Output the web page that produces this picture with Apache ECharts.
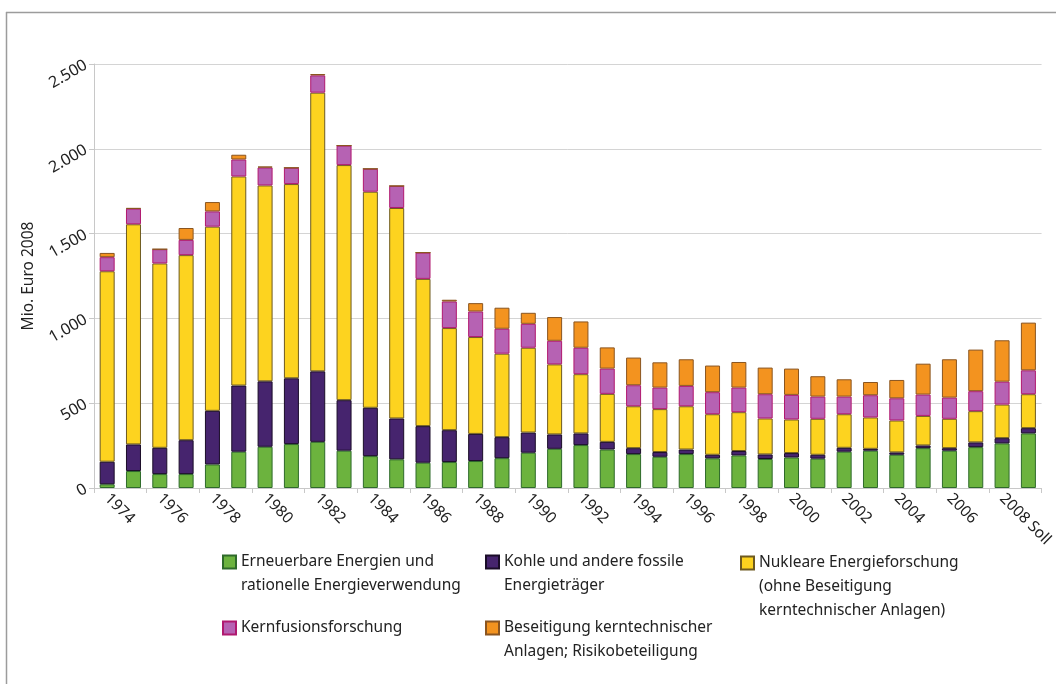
<!DOCTYPE html>
<html>
<head>
<meta charset="utf-8">
<script src="https://cdn.jsdelivr.net/npm/echarts@6/dist/echarts.min.js"></script>
<style>
  html, body { margin: 0; padding: 0; background: #fff; }
  #chart { width: 1056px; height: 684px; }
</style>
</head>
<body>
<div id="chart"></div>
<script>
const categories = ['1974','1975','1976','1977','1978','1979','1980','1981','1982','1983',
  '1984','1985','1986','1987','1988','1989','1990','1991','1992','1993',
  '1994','1995','1996','1997','1998','1999','2000','2001','2002','2003',
  '2004','2005','2006','2007','2008 Soll','2009 Soll'];

const erneuerbare = [22,100,82,82,139,214,243,259,272,220,188,169,149,153,159,176,208,231,253,
  227,200,184,200,175,192,171,180,173,214,220,196,235,220,241,263,322];
const kohle = [133,157,155,200,316,390,386,388,416,298,285,241,216,188,160,124,119,85,69,
  45,35,28,27,21,26,27,26,23,23,11,14,16,15,28,31,31];
const nuklear = [1123,1298,1087,1091,1086,1233,1155,1145,1643,1386,1274,1241,868,602,571,492,500,413,349,
  283,247,253,255,239,229,212,198,212,198,185,188,174,173,184,198,200];
const kernfusion = [83,92,84,90,90,100,106,96,102,115,135,130,155,157,151,147,141,139,156,
  149,124,127,120,130,145,143,145,131,104,131,131,126,125,118,135,141];
const beseitigung = [25,3,0,70,55,28,5,0,8,0,0,0,0,10,49,124,65,140,155,
  125,163,149,157,157,151,157,155,120,102,78,108,182,226,245,244,281];

const yTicks = ['0','500','1.000','1.500','2.000','2.500'];

const seriesNames = [
  'Erneuerbare Energien und rationelle Energieverwendung',
  'Kohle und andere fossile Energieträger',
  'Nukleare Energieforschung (ohne Beseitigung kerntechnischer Anlagen)',
  'Kernfusionsforschung',
  'Beseitigung kerntechnischer Anlagen; Risikobeteiligung'
];
const legendLabels = [
  'Erneuerbare Energien und\nrationelle Energieverwendung',
  'Kohle und andere fossile\nEnergieträger',
  'Nukleare Energieforschung\n(ohne Beseitigung\nkerntechnischer Anlagen)',
  'Kernfusionsforschung',
  'Beseitigung kerntechnischer\nAnlagen; Risikobeteiligung'
];
const seriesData = [erneuerbare, kohle, nuklear, kernfusion, beseitigung];
const colors = ['#6cb33e', '#46246e', '#fdd31f', '#b662b3', '#f3931f'];
const borders = ['#2e6a2a', '#1a0c28', '#6e5a20', '#b0186f', '#8a5520'];

const FONT = '"Noto Sans", "Liberation Sans", sans-serif';
const LH = 24;

function legendAt(i, left, firstLineCenter) {
  const lines = legendLabels[i].split('\n').length;
  const total = 2 * lines - 1;
  const blockH = total * LH;
  let prefix = '';
  for (let k = 0; k < lines - 1; k++) prefix += ' \n';
  const txt = prefix + legendLabels[i];
  return {
    data: [seriesNames[i]],
    left: left,
    top: firstLineCenter - blockH / 2,
    padding: 0,
    orient: 'vertical',
    icon: 'rect',
    itemWidth: 13,
    itemHeight: 13,
    selectedMode: false,
    formatter: function () { return txt; },
    textStyle: {
      fontFamily: FONT,
      fontSize: 15.5,
      color: '#222',
      lineHeight: LH
    }
  };
}

const chart = echarts.init(document.getElementById('chart'));
chart.setOption({
  animation: false,
  backgroundColor: '#fff',
  graphic: [
    { type: 'line', shape: { x1: 6, y1: 12.5, x2: 1056, y2: 12.5 }, style: { stroke: '#9c9c9c', lineWidth: 1.5 } },
    { type: 'line', shape: { x1: 6.5, y1: 12, x2: 6.5, y2: 684 }, style: { stroke: '#9c9c9c', lineWidth: 1.5 } }
  ],
  legend: [
    legendAt(0, 222, 562),
    legendAt(1, 485, 562),
    legendAt(2, 740, 563),
    legendAt(3, 222, 628),
    legendAt(4, 485, 628)
  ],
  grid: { left: 94, right: 8, top: 64, bottom: 196, containLabel: false },
  xAxis: {
    type: 'category',
    data: categories,
    axisLine: { show: true, lineStyle: { color: '#c8c8c8', width: 1 } },
    axisTick: { show: true, length: 5, lineStyle: { color: '#c8c8c8' } },
    axisLabel: {
      interval: 1,
      rotate: -45,
      margin: 8,
      fontFamily: FONT,
      fontSize: 15.5,
      color: '#222'
    }
  },
  yAxis: {
    type: 'value',
    min: 0,
    max: 2500,
    interval: 500,
    name: 'Mio. Euro 2008',
    nameLocation: 'middle',
    nameGap: 56,
    nameTextStyle: { fontFamily: FONT, fontSize: 15.5, color: '#222' },
    axisLine: { show: true, lineStyle: { color: '#c8c8c8' } },
    axisTick: { show: true, length: 5, lineStyle: { color: '#c8c8c8' } },
    splitLine: { show: true, lineStyle: { color: '#d4d4d4', width: 1 } },
    axisLabel: {
      rotate: 30,
      margin: 8,
      fontFamily: FONT,
      fontSize: 16,
      color: '#222',
      formatter: function (v) { return yTicks[Math.round(v / 500)]; }
    }
  },
  series: seriesData.map(function (d, i) {
    return {
      name: seriesNames[i],
      type: 'bar',
      stack: 'total',
      data: d,
      barWidth: 15,
      itemStyle: { color: colors[i], borderColor: borders[i], borderWidth: 1 }
    };
  })
});
</script>
</body>
</html>
